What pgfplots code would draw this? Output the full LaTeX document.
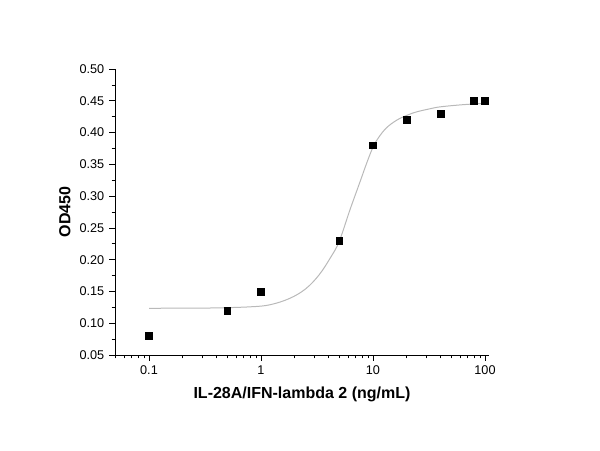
\documentclass[border=0pt]{standalone}
\usepackage{pgfplots}
\pgfplotsset{compat=1.18}
\usepackage{fontspec}
\setmainfont{Liberation Sans}
\begin{document}
\begin{tikzpicture}
\path[use as bounding box] (0,0) rectangle (450pt,337.5pt);
\begin{axis}[
  at={(86.25pt,71.25pt)}, anchor=south west,
  scale only axis, width=280.5pt, height=214.5pt,
  xmode=log, log basis x=10,
  xmin=0.0497, xmax=108.6, ymin=0.05, ymax=0.50,
  axis x line*=bottom, axis y line*=left,
  axis line style={-, line width=0.6pt},
  tick align=outside,
  major tick length=4.5pt, minor tick length=2.5pt,
  tick style={line width=0.5pt, black},
  xtick={0.1,1,10,100}, xticklabels={0.1,1,10,100},
  minor xtick={0.05,0.06,0.07,0.08,0.09,0.2,0.3,0.4,0.5,0.6,0.7,0.8,0.9,2,3,4,5,6,7,8,9,20,30,40,50,60,70,80,90},
  ytick={0.05,0.10,...,0.51},
  minor y tick num=1,
  yticklabel style={/pgf/number format/.cd, fixed, fixed zerofill, precision=2, assume math mode=true},
  ticklabel style={font=\fontsize{9.5}{11}\selectfont},
  xlabel={\textbf{IL-28A/IFN-lambda 2 (ng/mL)}},
  ylabel={\textbf{OD450}},
  label style={font=\fontsize{12}{14}\selectfont},
  xlabel style={yshift=-2pt},
  clip=false,
]
\addplot[color={rgb,255:red,185;green,185;blue,185}, line width=0.75pt, smooth, tension=0.6] coordinates {
(0.1,0.1235) (0.2,0.1237) (0.4,0.1241) (0.8,0.1258) (1.2,0.1290) (1.8,0.1390)
(2.5,0.154) (3.3,0.176) (4.2,0.204) (5,0.229) (6.23,0.2785) (7.66,0.3225)
(8.79,0.352) (10,0.377) (11.2,0.392) (13.2,0.4075) (16.3,0.4195) (20,0.427)
(24.5,0.4325) (32.4,0.4375) (40,0.4405) (60,0.4435) (80,0.445) (100,0.446)
};
\addplot[only marks, mark=square*, mark size=2.6pt, black] coordinates {
(0.1,0.08) (0.5,0.12) (1,0.15) (5,0.23) (10,0.38) (20,0.42) (40,0.43) (80,0.45) (100,0.45)
};
\end{axis}
\end{tikzpicture}
\end{document}
